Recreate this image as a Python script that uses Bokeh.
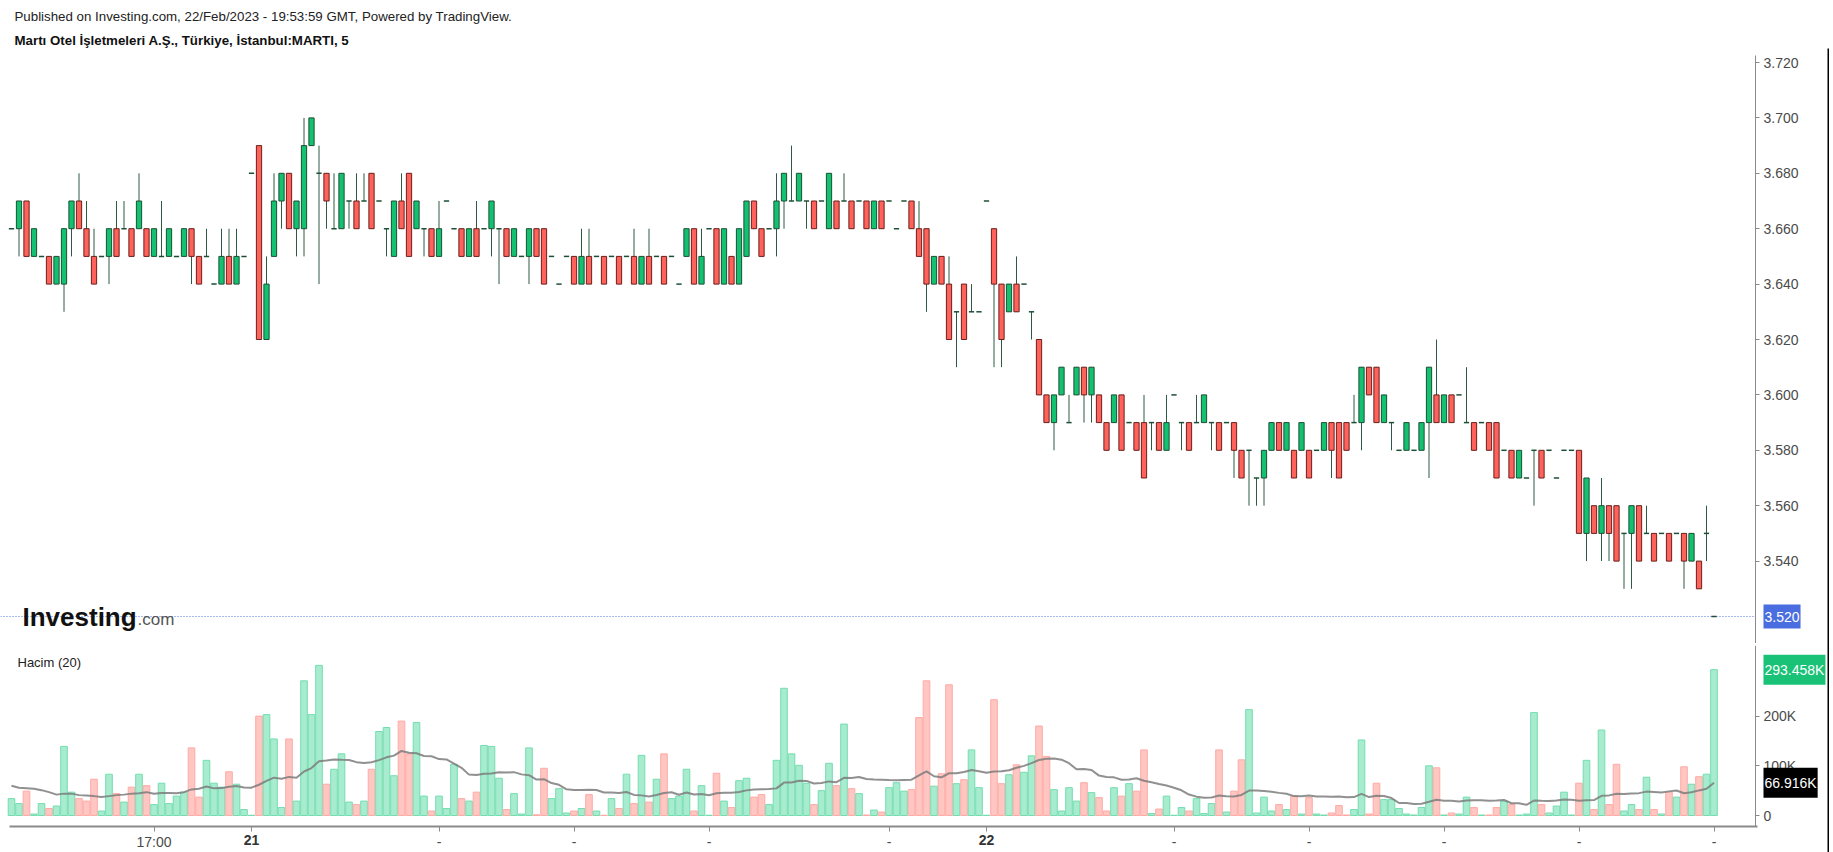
import numpy as np
import pandas as pd
from bokeh.plotting import figure
from bokeh.layouts import column, row
from bokeh.models import Range1d, FixedTicker, Label, PrintfTickFormatter, LinearAxis
from bokeh.embed import file_html
from bokeh.resources import INLINE
from bokeh.core.properties import value

# ---------------- data ----------------
header_line1 = "Published on Investing.com, 22/Feb/2023 - 19:53:59 GMT, Powered by TradingView."
header_line2 = "Martı Otel İşletmeleri A.Ş., Türkiye, İstanbul:MARTI, 5"
volume_title = "Hacim (20)"

opens = [
    3.66,3.66,3.67,3.65,3.65,3.65,3.64,3.64,3.66,3.67,
    3.66,3.65,3.65,3.65,3.66,3.66,3.66,3.66,3.66,3.65,
    3.65,3.65,3.65,3.65,3.66,3.65,3.65,3.64,3.64,3.65,
    3.64,3.65,3.68,3.69,3.62,3.65,3.67,3.68,3.66,3.66,
    3.69,3.68,3.68,3.66,3.66,3.67,3.67,3.67,3.68,3.67,
    3.66,3.65,3.67,3.68,3.66,3.66,3.66,3.65,3.67,3.66,
    3.66,3.65,3.66,3.66,3.66,3.66,3.66,3.65,3.65,3.65,
    3.66,3.66,3.65,3.64,3.65,3.65,3.64,3.65,3.65,3.65,
    3.65,3.65,3.65,3.65,3.64,3.65,3.65,3.65,3.65,3.64,
    3.65,3.66,3.64,3.66,3.66,3.64,3.65,3.64,3.65,3.67,
    3.66,3.66,3.66,3.67,3.67,3.67,3.67,3.67,3.67,3.66,
    3.67,3.67,3.67,3.67,3.67,3.66,3.67,3.67,3.66,3.67,
    3.67,3.66,3.66,3.64,3.65,3.64,3.63,3.64,3.63,3.63,
    3.67,3.66,3.64,3.63,3.64,3.64,3.63,3.62,3.60,3.59,
    3.60,3.59,3.60,3.61,3.60,3.60,3.59,3.59,3.60,3.59,
    3.59,3.59,3.59,3.59,3.58,3.60,3.59,3.59,3.59,3.59,
    3.59,3.59,3.59,3.59,3.58,3.58,3.57,3.57,3.58,3.59,
    3.58,3.58,3.58,3.58,3.58,3.58,3.59,3.59,3.59,3.59,
    3.59,3.61,3.61,3.59,3.59,3.58,3.58,3.58,3.58,3.59,
    3.60,3.59,3.60,3.60,3.59,3.59,3.59,3.59,3.59,3.58,
    3.58,3.57,3.57,3.58,3.58,3.58,3.57,3.58,3.58,3.58,
    3.55,3.56,3.55,3.56,3.56,3.55,3.55,3.56,3.55,3.55,
    3.55,3.55,3.55,3.55,3.54,3.54,3.55,3.52,
]
highs = [
    3.66,3.67,3.67,3.66,3.65,3.65,3.65,3.66,3.67,3.68,
    3.67,3.66,3.65,3.66,3.67,3.67,3.66,3.68,3.66,3.66,
    3.67,3.66,3.65,3.66,3.66,3.65,3.66,3.64,3.66,3.66,
    3.66,3.65,3.68,3.69,3.65,3.68,3.68,3.68,3.67,3.70,
    3.70,3.69,3.68,3.68,3.68,3.67,3.68,3.68,3.68,3.67,
    3.66,3.67,3.68,3.68,3.67,3.66,3.66,3.67,3.67,3.66,
    3.66,3.66,3.67,3.66,3.67,3.66,3.66,3.66,3.65,3.66,
    3.66,3.66,3.65,3.64,3.65,3.65,3.66,3.66,3.65,3.65,
    3.65,3.65,3.65,3.66,3.65,3.66,3.65,3.65,3.65,3.64,
    3.66,3.66,3.66,3.66,3.66,3.66,3.65,3.66,3.67,3.67,
    3.66,3.66,3.68,3.68,3.69,3.68,3.67,3.67,3.67,3.68,
    3.67,3.68,3.67,3.67,3.67,3.67,3.67,3.67,3.66,3.67,
    3.67,3.67,3.66,3.65,3.65,3.65,3.63,3.64,3.64,3.63,
    3.67,3.66,3.64,3.64,3.65,3.64,3.63,3.62,3.60,3.60,
    3.61,3.60,3.61,3.61,3.61,3.60,3.59,3.60,3.60,3.59,
    3.59,3.60,3.59,3.59,3.60,3.60,3.59,3.59,3.60,3.60,
    3.59,3.59,3.59,3.59,3.58,3.58,3.57,3.58,3.59,3.59,
    3.59,3.58,3.59,3.58,3.58,3.59,3.59,3.59,3.59,3.60,
    3.61,3.61,3.61,3.60,3.59,3.58,3.59,3.58,3.59,3.61,
    3.62,3.60,3.60,3.60,3.61,3.59,3.59,3.59,3.59,3.58,
    3.58,3.58,3.57,3.58,3.58,3.58,3.57,3.58,3.58,3.58,
    3.57,3.56,3.57,3.56,3.56,3.55,3.56,3.56,3.56,3.55,
    3.55,3.55,3.55,3.55,3.55,3.54,3.56,3.52,
]
lows = [
    3.66,3.65,3.65,3.65,3.65,3.64,3.64,3.63,3.65,3.66,
    3.65,3.64,3.65,3.64,3.65,3.66,3.65,3.66,3.65,3.65,
    3.65,3.65,3.65,3.65,3.64,3.64,3.65,3.64,3.64,3.64,
    3.64,3.65,3.68,3.62,3.62,3.65,3.66,3.66,3.65,3.65,
    3.69,3.64,3.66,3.66,3.66,3.66,3.66,3.67,3.66,3.67,
    3.65,3.65,3.66,3.65,3.66,3.65,3.65,3.65,3.67,3.66,
    3.65,3.65,3.65,3.66,3.65,3.64,3.65,3.65,3.65,3.64,
    3.65,3.64,3.65,3.64,3.65,3.64,3.64,3.64,3.65,3.64,
    3.65,3.64,3.65,3.64,3.64,3.64,3.65,3.64,3.65,3.64,
    3.65,3.64,3.64,3.66,3.64,3.64,3.64,3.64,3.65,3.66,
    3.65,3.66,3.65,3.66,3.67,3.67,3.66,3.66,3.67,3.66,
    3.66,3.67,3.66,3.67,3.66,3.66,3.66,3.67,3.66,3.67,
    3.66,3.65,3.63,3.64,3.64,3.62,3.61,3.62,3.63,3.63,
    3.67,3.61,3.61,3.63,3.63,3.64,3.62,3.60,3.59,3.58,
    3.60,3.59,3.60,3.59,3.59,3.59,3.58,3.59,3.58,3.59,
    3.58,3.57,3.58,3.58,3.58,3.60,3.58,3.58,3.59,3.59,
    3.58,3.58,3.59,3.57,3.57,3.56,3.56,3.56,3.58,3.58,
    3.58,3.57,3.58,3.57,3.58,3.58,3.57,3.57,3.58,3.59,
    3.58,3.60,3.59,3.59,3.58,3.58,3.58,3.58,3.58,3.57,
    3.59,3.59,3.59,3.60,3.59,3.58,3.59,3.58,3.57,3.58,
    3.57,3.57,3.57,3.56,3.57,3.58,3.57,3.58,3.58,3.55,
    3.54,3.55,3.54,3.54,3.54,3.53,3.53,3.54,3.55,3.54,
    3.55,3.54,3.55,3.53,3.54,3.53,3.54,3.52,
]
closes = [
    3.66,3.67,3.65,3.66,3.65,3.64,3.65,3.66,3.67,3.66,
    3.65,3.64,3.65,3.66,3.65,3.66,3.65,3.67,3.65,3.66,
    3.65,3.66,3.65,3.66,3.65,3.64,3.65,3.64,3.65,3.64,
    3.65,3.65,3.68,3.62,3.64,3.67,3.68,3.66,3.67,3.69,
    3.70,3.68,3.67,3.66,3.68,3.67,3.66,3.67,3.66,3.67,
    3.66,3.67,3.66,3.65,3.67,3.66,3.65,3.66,3.67,3.66,
    3.65,3.66,3.65,3.66,3.67,3.66,3.65,3.66,3.65,3.66,
    3.65,3.64,3.65,3.64,3.65,3.64,3.65,3.64,3.65,3.64,
    3.65,3.64,3.65,3.64,3.65,3.64,3.65,3.64,3.65,3.64,
    3.66,3.64,3.65,3.66,3.64,3.66,3.64,3.66,3.67,3.66,
    3.65,3.66,3.67,3.68,3.67,3.68,3.67,3.66,3.67,3.68,
    3.66,3.67,3.66,3.67,3.66,3.67,3.66,3.67,3.66,3.67,
    3.66,3.65,3.64,3.65,3.64,3.62,3.63,3.62,3.63,3.63,
    3.67,3.64,3.62,3.64,3.63,3.64,3.63,3.60,3.59,3.60,
    3.61,3.59,3.61,3.60,3.61,3.59,3.58,3.60,3.58,3.59,
    3.58,3.57,3.59,3.58,3.59,3.60,3.59,3.58,3.59,3.60,
    3.59,3.58,3.59,3.58,3.57,3.58,3.57,3.58,3.59,3.58,
    3.59,3.57,3.59,3.57,3.58,3.59,3.58,3.57,3.58,3.59,
    3.61,3.60,3.59,3.60,3.59,3.58,3.59,3.58,3.59,3.61,
    3.59,3.60,3.59,3.60,3.59,3.58,3.59,3.58,3.57,3.58,
    3.57,3.58,3.57,3.58,3.57,3.58,3.57,3.58,3.58,3.55,
    3.57,3.55,3.56,3.55,3.54,3.55,3.56,3.54,3.55,3.54,
    3.55,3.54,3.55,3.54,3.55,3.53,3.55,3.52,
]
# volume in thousands of shares
volumes_k = [
    34,24,49,3,24,14,19,139,47,34,
    29,73,9,83,44,27,57,83,60,22,
    65,24,39,47,136,37,111,65,57,88,
    63,12,0.5,200,203,154,16,154,29,271,
    203,302,63,93,124,27,22,29,93,169,
    177,80,190,124,187,39,9,39,14,103,
    34,29,47,141,139,75,12,44,3,136,
    1.4,95,34,54,5,9,14,42,9,0.5,
    34,14,83,24,121,27,73,124,34,39,
    93,9,60,0.5,85,29,16,70,75,37,
    42,22,111,256,124,101,65,22,50,105,
    60,184,54,44,1,11,7,56,66,49,
    52,197,271,59,84,263,64,72,132,56,
    0.5,233,64,82,102,87,120,180,119,52,
    9,56,29,66,46,36,9,56,39,64,
    49,132,4,13,39,0.5,16,9,34,4,
    24,132,7,49,112,213,5,37,9,22,
    12,39,3,36,3,1,5,20,1,12,
    152,3,65,32,32,14,3,1,16,100,
    96,1,5,3,37,16,1,1,16,29,
    22,1,3,207,22,5,19,47,1,65,
    111,12,172,22,103,9,22,12,77,12,
    3,47,37,98,63,78,83,293.458,
]
# first 19 values of the 20-bar volume average (K)
ma_head_k = [60,56,55,54,51,47,42,44,44,41,40,39,37,39,41,42,44,45,47]
ma_window = 20

price_ticks = [3.54, 3.56, 3.58, 3.60, 3.62, 3.64, 3.66, 3.68, 3.70, 3.72]
vol_ticks = [0, 100000, 200000]
vol_tick_labels = ["0", "100K", "200K"]
time_tick_idx = [19, 32, 57, 75, 93, 117, 130, 155, 173, 191, 209, 227]
time_tick_labels = ["17:00", "", "-", "-", "-", "-", "", "-", "-", "-", "-", "-"]
day_label_idx = [32, 130]
day_labels = ["21", "22"]
last_price = 3.52
last_price_label = "3.520"
last_volume_label = "293.458K"
ma_last_label = "66.916K"

# ---------------- layout geometry (pixels) ----------------
PLOT_W = 1827            # full width of the panes (incl. the scale area)
AXIS_PX = 1755           # x position of the right-hand scale line
X0_PX, SP_PX = 11.0, 7.5  # centre of first bar, bar spacing
def px_to_idx(px):
    return (px - X0_PX) / SP_PX

PRICE_TOP_PX, PRICE_BOT_PX = 48, 643
P_REF, P_REF_PX, P_PER_PX = 3.72, 62.0, 1 / 2770.0
def py_to_price(py):
    return P_REF - (py - P_REF_PX) * P_PER_PX

VOL_TOP_PX, VOL_AXIS_PX, VOL_BOT_PX = 645, 826, 852
V0_PX, V_PX_PER_100K = 815.0, 49.7
def py_to_vol(py):
    return (V0_PX - py) / V_PX_PER_100K * 100000

FONT = "Liberation Sans"
GREEN, GREEN_EDGE = "#12c271", "#1c4f35"
RED, RED_EDGE = "#ff625a", "#6a1f1c"
WICK = "#2e5a44"
VGREEN, VGREEN_EDGE = "#a8ecd0", "#74ddb0"
VRED, VRED_EDGE = "#ffc6c2", "#ffaaa5"
AXIS_GRAY = "#8a8a8a"
LABEL_GRAY = "#4a4a4a"
AX_FONT = "14px"

o = np.array(opens); h = np.array(highs); l = np.array(lows); c = np.array(closes)
n = len(o)
idx = np.arange(n)
is_doji = np.isclose(o, c)
is_up = c > o
is_down = c < o
vol = np.array(volumes_k) * 1000.0
ma = pd.Series(vol).rolling(ma_window).mean().to_numpy()
ma[:ma_window - 1] = np.array(ma_head_k) * 1000.0

x_range = Range1d(px_to_idx(0), px_to_idx(PLOT_W))


def style_axis(ax, tick_out=4):
    ax.axis_line_color = AXIS_GRAY
    ax.major_tick_line_color = AXIS_GRAY
    ax.major_tick_in = 0
    ax.major_tick_out = tick_out
    ax.minor_tick_line_color = None
    ax.major_label_text_font = FONT
    ax.major_label_text_font_size = AX_FONT
    ax.major_label_text_color = LABEL_GRAY
    ax.major_label_standoff = 4


def tag(fig, y, text, bg):
    fig.add_layout(Label(x=px_to_idx(AXIS_PX + 8), y=y, text=text, text_font=FONT,
                         text_font_size=AX_FONT, text_color="white",
                         background_fill_color=bg, text_baseline="middle",
                         text_align="left", padding=(1, 7)))


# ---------------- header ----------------
header = figure(width=1833, height=48, x_range=Range1d(0, 1833), y_range=Range1d(48, 0),
                x_axis_location=None, y_axis_location=None, toolbar_location=None,
                output_backend="svg", min_border=0, outline_line_color=None)
header.grid.visible = False
header.text(x=[14], y=[16], text=[header_line1], text_font=value(FONT), text_font_size="13.3px",
            text_color="#222222", text_baseline="middle", text_align="left")
header.text(x=[14], y=[40], text=[header_line2], text_font=value(FONT), text_font_size="13.3px",
            text_font_style="bold", text_color="#111111", text_baseline="middle", text_align="left")

# ---------------- price pane ----------------
price = figure(frame_width=PLOT_W, frame_height=PRICE_BOT_PX - PRICE_TOP_PX,
               x_range=x_range,
               y_range=Range1d(py_to_price(PRICE_BOT_PX), py_to_price(PRICE_TOP_PX)),
               x_axis_location=None, y_axis_location=None, toolbar_location=None,
               output_backend="svg", min_border=0, outline_line_color=None)
price.grid.visible = False
pax = LinearAxis(fixed_location=px_to_idx(AXIS_PX), ticker=FixedTicker(ticks=price_ticks),
                 formatter=PrintfTickFormatter(format="%.3f"),
                 bounds=(py_to_price(PRICE_BOT_PX), py_to_price(55)))
style_axis(pax)
price.add_layout(pax, "right")

# dotted last-price line across the chart
price.segment(x0=[px_to_idx(0)], y0=[last_price], x1=[px_to_idx(AXIS_PX)], y1=[last_price],
              line_color="#4f74e3", line_dash="1 2", line_width=1)

price.segment(idx, h, idx, l, line_color=WICK, line_width=1)
bw = 0.7
price.vbar(x=idx[is_up], width=bw, top=c[is_up], bottom=o[is_up], fill_color=GREEN,
           line_color=GREEN_EDGE, line_width=1)
price.vbar(x=idx[is_down], width=bw, top=o[is_down], bottom=c[is_down], fill_color=RED,
           line_color=RED_EDGE, line_width=1)
price.segment(idx[is_doji] - bw / 2, o[is_doji], idx[is_doji] + bw / 2, c[is_doji],
              line_color=GREEN_EDGE, line_width=1.5)

# Investing.com mark
price.add_layout(Label(x=px_to_idx(22), y=py_to_price(616), text="Investing", text_font=FONT,
                       text_font_size="26px", text_font_style="bold", text_color="#111111",
                       text_baseline="middle", text_align="left"))
price.add_layout(Label(x=px_to_idx(137), y=py_to_price(619), text=".com", text_font=FONT,
                       text_font_size="17px", text_color="#555555",
                       text_baseline="middle", text_align="left"))
tag(price, last_price, last_price_label, "#4a6ee0")

# ---------------- separator ----------------
sep = figure(width=PLOT_W, height=2, x_axis_location=None, y_axis_location=None,
             toolbar_location=None, output_backend="svg", min_border=0,
             outline_line_color=None, background_fill_color="#000000",
             border_fill_color="#000000")
sep.grid.visible = False

# ---------------- volume pane ----------------
volp = figure(frame_width=PLOT_W, frame_height=VOL_BOT_PX - VOL_TOP_PX, x_range=x_range,
              y_range=Range1d(py_to_vol(VOL_BOT_PX), py_to_vol(VOL_TOP_PX)),
              x_axis_location=None, y_axis_location=None, toolbar_location=None,
              output_backend="svg", min_border=0, outline_line_color=None)
volp.grid.visible = False
vy = LinearAxis(fixed_location=px_to_idx(AXIS_PX), ticker=FixedTicker(ticks=vol_ticks),
                bounds=(py_to_vol(VOL_AXIS_PX), py_to_vol(VOL_TOP_PX)))
vy.major_label_overrides = {t: s for t, s in zip(vol_ticks, vol_tick_labels)}
style_axis(vy)
volp.add_layout(vy, "right")

vx = LinearAxis(fixed_location=py_to_vol(VOL_AXIS_PX), ticker=FixedTicker(ticks=time_tick_idx),
                bounds=(px_to_idx(9), px_to_idx(AXIS_PX + 2)))
vx.major_label_overrides = {t: s for t, s in zip(time_tick_idx, time_tick_labels)}
style_axis(vx, tick_out=5)
vx.axis_line_width = 2
vx.major_label_standoff = 2
volp.add_layout(vx, "below")

vcol = np.where(c < o, VRED, VGREEN)
vedge = np.where(c < o, VRED_EDGE, VGREEN_EDGE)
volp.vbar(x=idx, width=0.88, top=vol, bottom=0, fill_color=vcol, line_color=vedge, line_width=1)
volp.line(idx, ma, line_color="#7d7d7d", line_width=2, line_alpha=0.85)

volp.add_layout(Label(x=px_to_idx(17), y=py_to_vol(662), text=volume_title, text_font=FONT,
                      text_font_size="13px", text_color="#222222", text_baseline="middle",
                      text_align="left"))
for di, dl in zip(day_label_idx, day_labels):
    volp.add_layout(Label(x=di, y=py_to_vol(839), text=dl, text_font=FONT, text_font_size=AX_FONT,
                          text_font_style="bold", text_color="#333333", text_baseline="middle",
                          text_align="center"))
tag(volp, vol[-1], last_volume_label, "#19c277")
tag(volp, ma[-1], ma_last_label, "#000000")

# ---------------- right border line ----------------
vline = figure(width=2, height=852 - 48, x_axis_location=None, y_axis_location=None,
               toolbar_location=None, output_backend="svg", min_border=0,
               outline_line_color=None, background_fill_color="#000000",
               border_fill_color="#000000")
vline.grid.visible = False

layout = column(header, row(column(price, sep, volp), vline))
open("out.html", "w").write(file_html(layout, INLINE))
